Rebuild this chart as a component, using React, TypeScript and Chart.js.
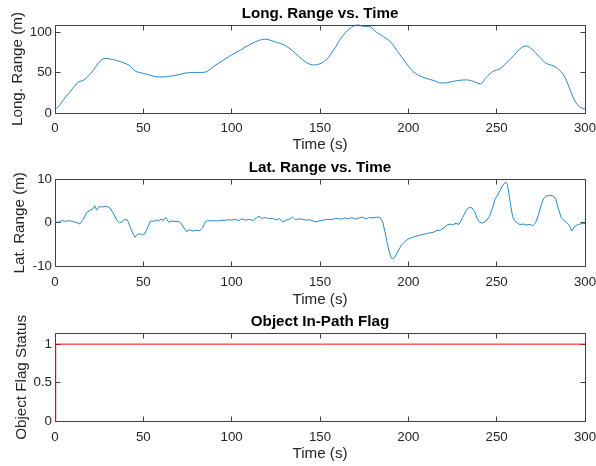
import React, { useEffect, useRef } from "react";
import { Chart, registerables } from "chart.js";

Chart.register(...registerables);

// ---- data -----------------------------------------------------------------

const timeTicks = [0, 50, 100, 150, 200, 250, 300];

// Longitudinal range to the tracked object (m)
const longTime = [
  0, 2, 5, 8, 11, 13, 16, 19, 22, 25, 28, 31, 35, 39, 42, 45, 48, 52, 56, 60,
  65, 70, 76, 82, 86, 90, 95, 100, 105, 110, 115, 119, 122, 126, 130, 134, 138,
  142, 146, 150, 154, 158, 162, 166, 170, 172, 174, 178, 182, 186, 190, 194,
  198, 202, 206, 210, 214, 219, 224, 229, 233, 237, 241, 244, 248, 252, 256,
  260, 264, 267, 270, 274, 278, 282, 285, 288, 291, 294, 297, 300,
];
const longRange = [
  5, 8, 17, 25, 33, 38, 40.5, 46, 54, 63, 67.5, 67, 65, 62, 59, 52.5, 50, 48,
  45.5, 44.5, 45.5, 47.5, 50, 50, 51.5, 58, 65, 72, 78, 84.5, 89.5, 91.5, 90,
  87, 84, 78, 70, 63, 59.5, 61, 67, 79, 93, 103, 108.5, 109, 107.5, 107, 100,
  94.5, 88, 76, 64, 53, 46.5, 43, 40.5, 37, 38.5, 40.5, 41, 39, 36, 44, 51.5,
  55, 63, 72, 81, 83, 79, 70, 61.5, 58.5, 54, 47, 32, 16, 7.5, 5,
];
const longTicks = [0, 50, 100];

// Lateral range to the tracked object (m)
const latTime = [
  0, 2, 4, 6, 8, 10, 12, 14, 16, 18, 20, 21.5, 22.5, 23.5, 25, 27, 29, 31, 33,
  35, 36.5, 38, 39.5, 41, 42.5, 44, 45.3, 46.5, 48, 49.5, 51, 52.5, 54, 55.5,
  57, 58.5, 60, 61.5, 62.5, 63.5, 64.5, 66, 68, 70, 71.5, 73, 74.5, 76, 78, 80,
  82, 83.5, 85, 86.5, 88, 90, 92, 94, 96, 98, 100, 102, 104, 106, 108, 110,
  112, 114, 115.5, 117, 119, 121, 123, 125, 127, 129, 131, 133, 134.5, 136,
  138, 140, 142, 144, 146, 148, 150, 152, 154, 156, 158, 160, 162, 164, 166,
  168, 170, 172, 174, 176, 178, 180, 182, 184, 185.5, 187, 188.5, 190, 191,
  192.5, 194, 196, 198, 200, 202, 204, 206, 208, 210, 212, 214, 216, 218, 220,
  222, 223.5, 225, 227, 228.5, 230, 231.5, 233, 234.5, 236, 237.5, 239, 240.5,
  242, 244, 246, 247.5, 249, 250.5, 252, 253.5, 255, 256, 257, 258, 259, 260,
  261.5, 263, 265, 267, 269, 270.5, 272, 273.5, 275, 276.5, 278, 280, 282,
  283.5, 285, 286.5, 288, 289.5, 291, 292.5, 294, 295.5, 297, 298.5, 300,
];
const latRange = [
  0.2, 0.1, 0.5, 0.3, 0.5, 0.3, 0.1, -0.3, 0.8, 2.4, 2.9, 3.2, 3.9, 2.9, 3.7,
  3.6, 3.8, 3.4, 2.2, 0.6, 0.0, 0.2, 0.8, 0.6, -0.9, -2.4, -3.3, -2.7, -2.5,
  -2.8, -2.4, -1.0, 0.4, 0.3, 0.6, 0.4, 0.8, 0.5, 1.2, 0.7, 0.1, 0.4, 0.3, 0.3,
  -0.2, -1.2, -2.0, -1.6, -1.9, -1.7, -1.8, -1.2, 0.2, 0.5, 0.4, 0.5, 0.4, 0.6,
  0.5, 0.7, 0.6, 0.8, 0.5, 0.9, 0.6, 0.8, 0.5, 1.1, 1.5, 1.0, 1.2, 0.9, 1.0,
  0.7, 0.9, 0.2, 0.6, 0.9, 1.3, 0.7, 0.9, 0.8, 0.6, 0.7, 0.4, 0.2, 0.5, 0.6,
  0.8, 0.7, 0.9, 1.0, 0.8, 1.1, 0.9, 1.2, 0.8, 1.1, 1.3, 0.9, 1.2, 1.1, 1.3,
  1.2, 0.2, -2.5, -5.5, -7.8, -8.3, -7.8, -6.6, -5.2, -4.3, -3.7, -3.4, -3.1,
  -2.9, -2.7, -2.5, -2.3, -2.2, -1.8, -1.7, -1.2, -0.5, -0.3, -0.5, -0.1, -0.4,
  0.6, 1.8, 3.0, 3.5, 3.4, 2.6, 0.9, 0.1, -0.1, 0.4, 1.5, 3.2, 5.3, 6.3, 7.5,
  8.6, 9.3, 8.8, 6.5, 3.8, 1.5, 0.5, 0.0, -0.4, -0.3, -0.5, -0.4, -0.7, 0.0,
  1.6, 3.8, 5.5, 6.1, 6.3, 6.1, 5.4, 3.1, 1.2, 0.5, 0.1, -0.5, -1.9, -0.9,
  -0.5, -0.3, -0.2, -0.2,
];
const latTicks = [-10, 0, 10];

// Object in-path flag (0 / 1)
const flagTime = [0, 0.4, 300];
const flagStatus = [0, 1, 1];
const flagTicks = [0, 0.5, 1];

// ---- styling --------------------------------------------------------------

const FONT = "'Liberation Sans', Arial, Helvetica, sans-serif";
const AXIS_COLOR = "#404040";
const TEXT_COLOR = "#262626";
const BLUE = "#0072BD";
const RED = "#FF0000";
const TICK_SIZE = 13.3;
const LABEL_SIZE = 15.2;
const LINE_H = LABEL_SIZE * 1.2;
const TICK_LEN = 5;
const PAGE_W = 596;
const PLOT_LEFT = 55;
const PLOT_RIGHT = 585;

Chart.defaults.font.family = FONT;

// Box around the axes with inward tick marks on all four sides
const axesFrame = {
  id: "axesFrame",
  beforeDatasetsDraw(chart: any) {
    const { ctx, chartArea: a } = chart;
    const xs = chart.scales.x;
    const ys = chart.scales.y;
    const L = Math.floor(a.left) + 0.5;
    const R = Math.floor(a.right) + 0.5;
    const T = Math.floor(a.top) + 0.5;
    const B = Math.floor(a.bottom) + 0.5;
    ctx.save();
    ctx.strokeStyle = AXIS_COLOR;
    ctx.lineWidth = 1;
    ctx.beginPath();
    ctx.rect(L, T, R - L, B - T);
    for (const t of xs.ticks) {
      const px = Math.floor(xs.getPixelForValue(t.value)) + 0.5;
      ctx.moveTo(px, B);
      ctx.lineTo(px, B - TICK_LEN);
      ctx.moveTo(px, T);
      ctx.lineTo(px, T + TICK_LEN);
    }
    for (const t of ys.ticks) {
      const py = Math.floor(ys.getPixelForValue(t.value)) + 0.5;
      ctx.moveTo(L, py);
      ctx.lineTo(L + TICK_LEN, py);
      ctx.moveTo(R, py);
      ctx.lineTo(R - TICK_LEN, py);
    }
    ctx.stroke();
    ctx.restore();
  },
};

type PanelSpec = {
  title: string;
  yLabel: string;
  xs: number[];
  ys: number[];
  yMin: number;
  yMax: number;
  yTicks: number[];
  color: string;
  lineWidth: number;
  smooth: boolean;
  // placement on the page and inside the canvas
  top: number;
  height: number;
  titleCenter: number;
  plotTop: number;
  plotBottom: number;
  xLabelCenter: number;
  yLabelCenter: number;
};

const panels: PanelSpec[] = [
  {
    title: "Long. Range vs. Time",
    yLabel: "Long. Range (m)",
    xs: longTime,
    ys: longRange,
    yMin: 0,
    yMax: 109,
    yTicks: longTicks,
    color: BLUE,
    lineWidth: 0.85,
    smooth: true,
    top: 0,
    height: 155,
    titleCenter: 14,
    plotTop: 25,
    plotBottom: 113,
    xLabelCenter: 145,
    yLabelCenter: 17.5,
  },
  {
    title: "Lat. Range vs. Time",
    yLabel: "Lat. Range (m)",
    xs: latTime,
    ys: latRange,
    yMin: -10,
    yMax: 10,
    yTicks: latTicks,
    color: BLUE,
    lineWidth: 0.85,
    smooth: false,
    top: 155,
    height: 155,
    titleCenter: 13,
    plotTop: 24,
    plotBottom: 111.5,
    xLabelCenter: 144.5,
    yLabelCenter: 20,
  },
  {
    title: "Object In-Path Flag",
    yLabel: "Object Flag Status",
    xs: flagTime,
    ys: flagStatus,
    yMin: 0,
    yMax: 1.14,
    yTicks: flagTicks,
    color: RED,
    lineWidth: 1,
    smooth: false,
    top: 310,
    height: 156,
    titleCenter: 12,
    plotTop: 23.3,
    plotBottom: 111.5,
    xLabelCenter: 144,
    yLabelCenter: 21.5,
  },
];

function Panel({ spec }: { spec: PanelSpec }) {
  const ref = useRef<HTMLCanvasElement>(null);

  useEffect(() => {
    const xAxisHeight = spec.height - spec.plotBottom;
    const points = spec.xs.map((x, i) => ({ x, y: spec.ys[i] }));
    const chart = new Chart(ref.current as HTMLCanvasElement, {
      type: "line",
      data: {
        datasets: [
          {
            data: points,
            borderColor: spec.color,
            borderWidth: spec.lineWidth,
            pointRadius: 0,
            fill: false,
            tension: 0,
            clip: false,
            cubicInterpolationMode: spec.smooth ? "monotone" : "default",
          },
        ],
      },
      options: {
        animation: false,
        responsive: false,
        devicePixelRatio: 1,
        events: [],
        layout: {
          padding: { left: 0, right: PAGE_W - PLOT_RIGHT, top: 0, bottom: 0 },
        },
        plugins: {
          legend: { display: false },
          tooltip: { enabled: false },
          title: {
            display: true,
            text: spec.title,
            fullSize: false,
            color: "#000000",
            font: { family: FONT, size: LABEL_SIZE, weight: "bold", lineHeight: 1.2 },
            padding: {
              top: spec.titleCenter - LINE_H / 2,
              bottom: spec.plotTop - spec.titleCenter - LINE_H / 2,
            },
          },
        },
        scales: {
          x: {
            type: "linear",
            min: 0,
            max: 300,
            afterBuildTicks: (s: any) => {
              s.ticks = timeTicks.map((v) => ({ value: v }));
            },
            afterFit: (s: any) => {
              s.height = xAxisHeight;
              s.paddingLeft = 0;
              s.paddingRight = 0;
            },
            grid: { display: false, drawTicks: false },
            border: { display: false },
            ticks: {
              padding: 7.5,
              color: TEXT_COLOR,
              font: { family: FONT, size: TICK_SIZE },
              maxRotation: 0,
              autoSkip: false,
              callback: (v: any) => String(v),
            },
            title: {
              display: true,
              text: "Time (s)",
              color: TEXT_COLOR,
              font: { family: FONT, size: LABEL_SIZE, lineHeight: 1.2 },
              padding: {
                top: 0,
                bottom: spec.height - spec.xLabelCenter - LINE_H / 2,
              },
            },
          },
          y: {
            type: "linear",
            min: spec.yMin,
            max: spec.yMax,
            afterBuildTicks: (s: any) => {
              s.ticks = spec.yTicks.map((v) => ({ value: v }));
            },
            afterFit: (s: any) => {
              s.width = PLOT_LEFT;
              s.paddingTop = 0;
              s.paddingBottom = 0;
            },
            grid: { display: false, drawTicks: false },
            border: { display: false },
            ticks: {
              padding: 3,
              color: TEXT_COLOR,
              font: { family: FONT, size: TICK_SIZE },
              autoSkip: false,
              callback: (v: any) => String(v),
            },
            title: {
              display: true,
              text: spec.yLabel,
              color: TEXT_COLOR,
              font: { family: FONT, size: LABEL_SIZE, lineHeight: 1.2 },
              padding: { top: spec.yLabelCenter - LINE_H / 2, bottom: 0 },
            },
          },
        },
      },
      plugins: [axesFrame],
    } as any);
    return () => chart.destroy();
  }, [spec]);

  return (
    <canvas
      ref={ref}
      width={PAGE_W}
      height={spec.height}
      style={{
        position: "absolute",
        left: 0,
        top: spec.top,
        width: PAGE_W,
        height: spec.height,
        display: "block",
      }}
    />
  );
}

export default function App() {
  return (
    <div
      style={{
        position: "absolute",
        left: 0,
        top: 0,
        width: PAGE_W,
        height: 466,
        background: "#ffffff",
        overflow: "hidden",
      }}
    >
      {panels.map((p) => (
        <Panel key={p.title} spec={p} />
      ))}
    </div>
  );
}
